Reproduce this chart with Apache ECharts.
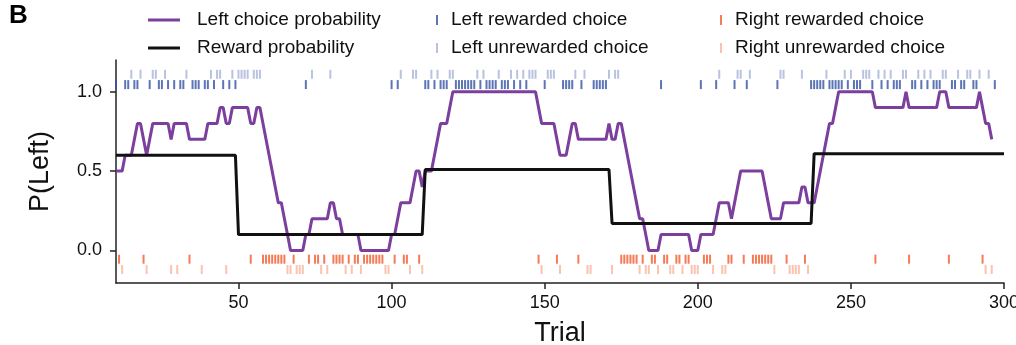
<!DOCTYPE html>
<html>
<head>
<meta charset="utf-8">
<script src="https://cdn.jsdelivr.net/npm/echarts@6/dist/echarts.min.js"></script>
<style>
  html, body { margin: 0; padding: 0; background: #fff; }
  #chart { width: 1016px; height: 345px; }
</style>
</head>
<body>
<div id="chart"></div>
<script>
// Trial range shown on the x axis
const firstTrial = 10;
const lastTrial = 300;

// Running probability of choosing left (10-trial window), one value per trial from firstTrial
const leftChoiceProb = [
  0.5,0.5,0.5,0.6,0.6,0.6,0.7,0.8,0.8,0.7,  0.6,0.7,0.8,0.8,0.8,0.8,0.8,0.8,0.7,0.8,
  0.8,0.8,0.8,0.8,0.7,0.7,0.7,0.7,0.7,0.7,  0.8,0.8,0.8,0.8,0.9,0.9,0.8,0.8,0.9,0.9,
  0.9,0.9,0.9,0.9,0.8,0.8,0.9,0.9,0.8,0.7,  0.6,0.5,0.4,0.3,0.3,0.2,0.1,0.0,0.0,0.0,
  0.0,0.0,0.1,0.1,0.2,0.2,0.2,0.2,0.2,0.2,  0.3,0.3,0.2,0.2,0.1,0.1,0.1,0.1,0.1,0.1,
  0.0,0.0,0.0,0.0,0.0,0.0,0.0,0.0,0.0,0.0,  0.1,0.1,0.2,0.3,0.3,0.3,0.3,0.4,0.5,0.5,
  0.4,0.5,0.5,0.5,0.6,0.7,0.8,0.8,0.8,0.9,  1.0,1.0,1.0,1.0,1.0,1.0,1.0,1.0,1.0,1.0,
  1.0,1.0,1.0,1.0,1.0,1.0,1.0,1.0,1.0,1.0,  1.0,1.0,1.0,1.0,1.0,1.0,1.0,1.0,0.9,0.8,
  0.8,0.8,0.8,0.8,0.7,0.6,0.6,0.6,0.7,0.8,  0.8,0.7,0.7,0.7,0.7,0.7,0.7,0.7,0.7,0.7,
  0.7,0.8,0.7,0.7,0.8,0.8,0.7,0.6,0.5,0.4,  0.3,0.2,0.2,0.1,0.0,0.0,0.0,0.0,0.1,0.1,
  0.1,0.1,0.1,0.1,0.1,0.1,0.1,0.1,0.0,0.0,  0.0,0.1,0.1,0.1,0.1,0.1,0.2,0.3,0.3,0.3,
  0.3,0.2,0.3,0.4,0.5,0.5,0.5,0.5,0.5,0.5,  0.5,0.5,0.4,0.3,0.2,0.2,0.2,0.2,0.3,0.3,
  0.3,0.3,0.3,0.3,0.4,0.4,0.3,0.3,0.3,0.4,  0.5,0.6,0.7,0.8,0.8,0.9,1.0,1.0,1.0,1.0,
  1.0,1.0,1.0,1.0,1.0,1.0,1.0,1.0,0.9,0.9,  0.9,0.9,0.9,0.9,0.9,0.9,0.9,0.9,1.0,0.9,
  0.9,0.9,0.9,0.9,0.9,0.9,0.9,0.9,0.9,1.0,  1.0,1.0,0.9,0.9,0.9,0.9,0.9,0.9,0.9,0.9,
  0.9,0.9,1.0,0.9,0.8,0.8,0.7
];

// Reward probability of the left side, constant within each block
const blockStart = [10, 50, 111, 172, 238];
const blockProb  = [0.6, 0.1, 0.51, 0.17, 0.61];

// Trials on which each kind of choice was made
const leftRewarded = [10,13,14,16,17,21,24,25,27,29,31,32,35,36,37,39,40,42,45,47,49,
  72,100,102,111,112,114,116,117,118,121,122,123,124,125,126,127,129,131,132,133,134,136,137,138,
  140,142,144,150,156,157,158,159,162,166,167,168,169,170,188,201,206,212,216,226,
  237,238,239,240,241,243,244,245,246,247,249,251,252,253,257,260,262,264,265,266,
  270,271,273,275,277,278,279,283,284,286,287,290,291,297];
const leftUnrewarded = [15,18,22,23,26,33,41,43,44,48,50,51,52,53,55,56,57,74,80,
  103,107,108,113,115,119,120,128,130,135,139,141,143,145,146,147,151,152,153,160,163,
  171,173,174,207,213,214,217,227,228,234,242,248,250,254,255,256,259,261,263,267,268,
  272,274,276,280,281,285,288,289,292,295];
const rightRewarded = [11,19,34,54,58,59,60,61,62,63,64,65,68,73,75,76,78,81,82,83,84,86,88,89,
  91,92,93,94,95,96,97,101,104,105,109,148,154,161,175,176,177,178,179,180,182,185,186,
  189,190,193,194,196,197,202,203,204,210,211,215,218,219,220,221,222,223,224,229,235,
  258,269,282,293];
const rightUnrewarded = [12,20,28,30,38,46,66,67,69,70,71,77,79,85,87,90,98,99,106,110,
  149,155,164,165,172,181,183,184,187,191,192,195,198,199,200,205,208,209,225,
  230,231,232,233,236,294,296];

// Height of each raster row on the probability axis
const rowY = { leftRewarded: 1.045, leftUnrewarded: 1.11, rightRewarded: -0.055, rightUnrewarded: -0.12 };

const xTicks = [50, 100, 150, 200, 250, 300];
const yTicks = [0, 0.5, 1.0];

const colors = {
  prob: '#7d3f9e',
  reward: '#111111',
  leftRewarded: '#3552a3',
  leftUnrewarded: '#a7b3da',
  rightRewarded: '#f25a2c',
  rightUnrewarded: '#f9b49c'
};

const probData = leftChoiceProb.map((v, i) => [firstTrial + i, v]);
const rewardData = [];
for (let t = firstTrial; t <= lastTrial; t++) {
  let k = 0;
  while (k + 1 < blockStart.length && t >= blockStart[k + 1]) k++;
  rewardData.push([t, blockProb[k]]);
}

const rasterRows = { leftRewarded, leftUnrewarded, rightRewarded, rightUnrewarded };

const font = '"Liberation Sans", Arial, sans-serif';
const axisColor = '#222';

const tickSeries = (name, key) => ({
  name: name,
  type: 'scatter',
  symbol: 'rect',
  symbolSize: [2, 9],
  itemStyle: { color: colors[key] },
  data: rasterRows[key].map(t => [t, rowY[key]]),
  z: 3,
  silent: true
});

const legendText = { fontFamily: font, fontSize: 19, color: '#111', lineHeight: 20 };
const legendBase = {
  orient: 'vertical',
  top: 10,
  padding: 0,
  itemGap: 8,
  selectedMode: false
};

const chart = echarts.init(document.getElementById('chart'), null, { renderer: 'canvas' });
chart.setOption({
  animation: false,
  backgroundColor: '#fff',
  textStyle: { fontFamily: font },
  graphic: [{
    type: 'text', left: 9, top: 3,
    style: { text: 'B', font: 'bold 26px ' + font, fill: '#000' }
  }],
  legend: [
    Object.assign({}, legendBase, {
      left: 148, itemWidth: 32, itemHeight: 3, icon: 'rect',
      textStyle: Object.assign({}, legendText, { padding: [0, 0, 0, 12] }),
      data: ['Left choice probability', 'Reward probability']
    }),
    Object.assign({}, legendBase, {
      left: 436, itemWidth: 2, itemHeight: 10, icon: 'rect',
      textStyle: Object.assign({}, legendText, { padding: [0, 0, 0, 8] }),
      data: ['Left rewarded choice', 'Left unrewarded choice']
    }),
    Object.assign({}, legendBase, {
      left: 720, itemWidth: 2, itemHeight: 10, icon: 'rect',
      textStyle: Object.assign({}, legendText, { padding: [0, 0, 0, 8] }),
      data: ['Right rewarded choice', 'Right unrewarded choice']
    })
  ],
  grid: { left: 116, right: 12, top: 60, bottom: 62, containLabel: false, outerBoundsMode: 'none' },
  xAxis: {
    type: 'value', min: firstTrial, max: lastTrial,
    name: 'Trial', nameLocation: 'middle', nameGap: 37,
    nameTextStyle: { fontFamily: font, fontSize: 27, color: '#111' },
    axisLine: { show: true, onZero: false, lineStyle: { color: axisColor, width: 1.5 } },
    axisTick: { show: true, inside: false, length: 6, lineStyle: { color: axisColor, width: 1.5 }, customValues: xTicks },
    axisLabel: { fontFamily: font, fontSize: 18, color: '#111', margin: 11, customValues: xTicks },
    splitLine: { show: false }
  },
  yAxis: {
    type: 'value', min: -0.205, max: 1.2,
    name: 'P(Left)', nameLocation: 'middle', nameGap: 62, nameRotate: 90,
    nameTextStyle: { fontFamily: font, fontSize: 27, color: '#111' },
    axisLine: { show: true, onZero: false, lineStyle: { color: axisColor, width: 1.5 } },
    axisTick: { show: true, inside: false, length: 6, lineStyle: { color: axisColor, width: 1.5 }, customValues: yTicks },
    axisLabel: { fontFamily: font, fontSize: 18, color: '#111', margin: 14, customValues: yTicks, formatter: v => v.toFixed(1) },
    splitLine: { show: false }
  },
  series: [
    {
      name: 'Left choice probability', type: 'line', data: probData,
      showSymbol: false, symbol: 'none', lineStyle: { color: colors.prob, width: 3 },
      itemStyle: { color: colors.prob }, z: 4, silent: true
    },
    {
      name: 'Reward probability', type: 'line', data: rewardData,
      showSymbol: false, symbol: 'none', lineStyle: { color: colors.reward, width: 3 },
      itemStyle: { color: colors.reward }, z: 5, silent: true
    },
    tickSeries('Left rewarded choice', 'leftRewarded'),
    tickSeries('Left unrewarded choice', 'leftUnrewarded'),
    tickSeries('Right rewarded choice', 'rightRewarded'),
    tickSeries('Right unrewarded choice', 'rightUnrewarded')
  ]
});
</script>
</body>
</html>
